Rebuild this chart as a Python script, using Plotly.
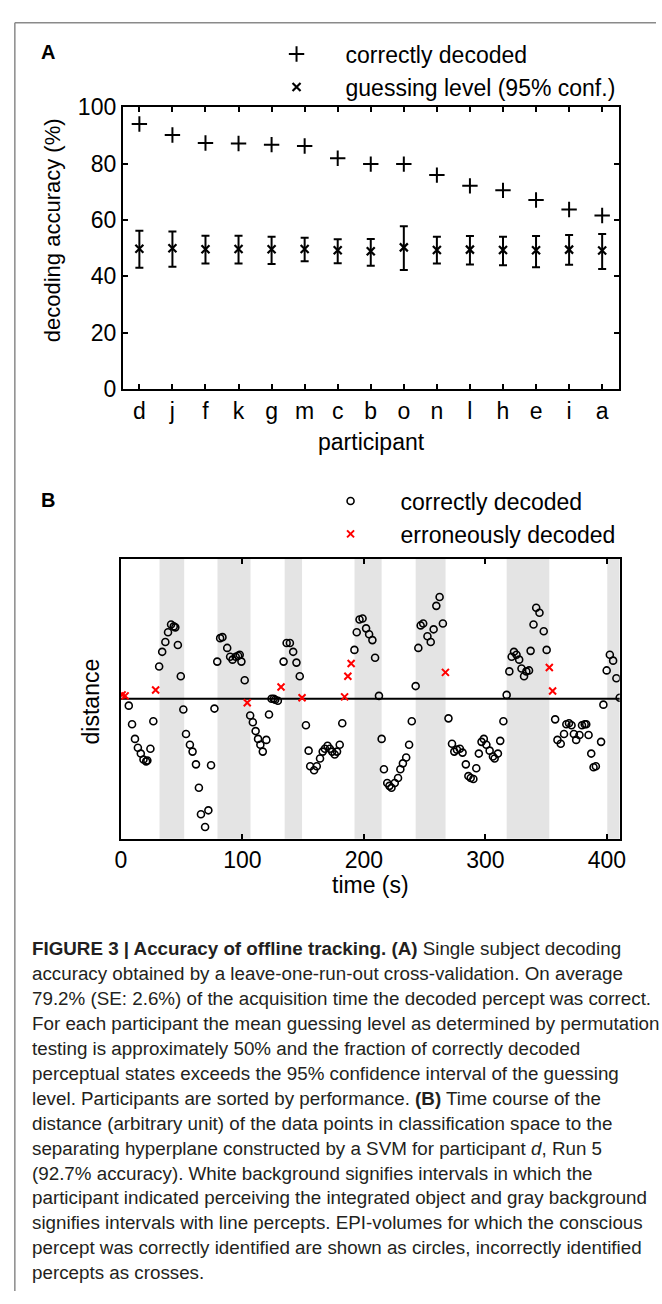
import plotly.graph_objects as go

W, H = 662, 1304

# ---------------- Panel A data ----------------
participants = ['d', 'j', 'f', 'k', 'g', 'm', 'c', 'b', 'o', 'n', 'l', 'h', 'e', 'i', 'a']
correct_acc = [94.0, 90.1, 87.3, 87.1, 86.7, 86.2, 81.9, 79.8, 79.8, 75.9, 72.1, 70.5, 67.1, 63.7, 61.6]
guess_mean = [49.8, 50.0, 49.6, 49.7, 49.6, 49.7, 49.3, 48.9, 50.3, 49.4, 49.5, 49.4, 49.3, 49.5, 49.2]
guess_upper = [56.2, 55.9, 54.4, 54.4, 54.1, 53.7, 53.2, 53.3, 57.8, 54.1, 54.3, 54.1, 54.3, 54.7, 55.0]
guess_lower = [43.1, 43.4, 44.6, 44.6, 44.4, 45.4, 44.7, 43.8, 42.3, 44.6, 44.2, 44.0, 43.3, 44.1, 42.6]
acc_ticks = [0, 20, 40, 60, 80, 100]

# ---------------- Panel B data ----------------
t_correct = [6.5, 9.2, 11.6, 14.0, 16.4, 18.6, 20.8, 21.8, 24.3, 26.7,
             31.5, 34.0, 36.6, 38.8, 41.3, 43.5, 44.8, 46.9, 49.3, 51.4,
             53.6, 56.8, 59.0, 61.8, 64.2, 65.9, 69.3, 72.0, 74.2, 77.0,
             79.3, 81.7, 83.6, 87.5, 89.9, 91.9, 94.5, 96.5, 97.8, 99.2,
             101.9, 106.4, 108.6, 110.9, 112.9, 114.8, 116.8, 119.7, 121.9, 124.0,
             125.8, 127.0, 129.2, 133.9, 136.4, 139.1, 141.8, 144.5, 147.2, 152.3,
             154.5, 155.8, 159.0, 161.2, 163.9, 166.1, 167.9, 170.1, 172.0, 173.9,
             176.0, 177.9, 180.1, 182.2, 192.2, 194.1, 196.4, 198.9, 201.8, 204.3,
             207.0, 209.2, 212.4, 214.6, 216.5, 219.2, 221.0, 222.7, 225.4, 228.1,
             230.0, 232.1, 234.8, 237.2, 239.4, 242.6, 244.8, 246.7, 248.8, 252.3,
             255.0, 257.4, 259.6, 262.3, 265.0, 269.6, 272.5, 274.4, 276.6, 279.0,
             281.2, 283.9, 286.0, 287.9, 290.1, 292.5, 294.6, 296.8, 298.7, 300.8,
             303.5, 306.2, 307.6, 310.3, 312.2, 314.8, 317.5, 319.7, 321.6, 323.5,
             325.6, 327.8, 329.7, 331.8, 333.7, 335.9, 337.2, 339.6, 341.8, 344.5,
             348.0, 350.4, 357.4, 359.3, 362.0, 364.7, 366.6, 368.8, 370.9, 372.8,
             374.7, 377.4, 379.5, 381.7, 383.0, 384.9, 387.1, 389.0, 390.9, 395.2,
             397.1, 399.8, 402.4, 405.1, 407.8, 410.5]
d_correct = [-0.07, -0.26, -0.41, -0.50, -0.56, -0.62, -0.64, -0.63, -0.51, -0.23,
             0.33, 0.48, 0.58, 0.68, 0.76, 0.74, 0.73, 0.55, 0.23, -0.11,
             -0.36, -0.47, -0.54, -0.67, -0.91, -1.18, -1.31, -1.14, -0.68, -0.10,
             0.38, 0.62, 0.63, 0.52, 0.43, 0.40, 0.43, 0.44, 0.45, 0.38,
             0.19, -0.17, -0.24, -0.33, -0.41, -0.47, -0.54, -0.42, -0.16, 0.00,
             0.00, -0.01, -0.02, 0.38, 0.57, 0.57, 0.48, 0.37, 0.23, -0.27,
             -0.53, -0.69, -0.73, -0.69, -0.61, -0.54, -0.51, -0.48, -0.51, -0.54,
             -0.57, -0.54, -0.47, -0.25, 0.50, 0.68, 0.81, 0.82, 0.72, 0.66,
             0.60, 0.42, 0.03, -0.41, -0.72, -0.86, -0.89, -0.91, -0.86, -0.81,
             -0.72, -0.66, -0.60, -0.47, -0.23, 0.13, 0.52, 0.75, 0.77, 0.64,
             0.58, 0.71, 0.95, 1.04, 0.77, -0.20, -0.46, -0.54, -0.52, -0.51,
             -0.55, -0.67, -0.79, -0.81, -0.82, -0.71, -0.56, -0.44, -0.41, -0.47,
             -0.53, -0.59, -0.61, -0.56, -0.43, -0.23, 0.04, 0.28, 0.43, 0.48,
             0.45, 0.40, 0.31, 0.23, 0.28, 0.29, 0.49, 0.76, 0.93, 0.88,
             0.69, 0.50, -0.21, -0.42, -0.46, -0.36, -0.26, -0.25, -0.27, -0.36,
             -0.42, -0.37, -0.27, -0.26, -0.26, -0.37, -0.56, -0.70, -0.69, -0.44,
             -0.06, 0.29, 0.45, 0.39, 0.21, 0.01]
t_wrong = [1.0, 3.5, 28.6, 104.0, 131.8, 149.1, 184.1, 186.8, 189.5, 267.1, 352.6, 355.3]
d_wrong = [0.04, 0.03, 0.09, -0.04, 0.12, 0.01, 0.02, 0.23, 0.36, 0.27, 0.32, 0.08]
gray_start = [31.8, 79.5, 134.8, 192.3, 242.6, 317.5, 400.3]
gray_end = [52.1, 106.7, 149.1, 214.6, 267.2, 352.6, 410.5]
time_ticks = [0, 100, 200, 300, 400]
time_range = [0, 410.5]
dist_range = [-1.43, 1.43]

caption_lines = [
    "<b>FIGURE 3 | Accuracy of offline tracking. (A)</b> Single subject decoding",
    "accuracy obtained by a leave-one-run-out cross-validation. On average",
    "79.2% (SE: 2.6%) of the acquisition time the decoded percept was correct.",
    "For each participant the mean guessing level as determined by permutation",
    "testing is approximately 50% and the fraction of correctly decoded",
    "perceptual states exceeds the 95% confidence interval of the guessing",
    "level. Participants are sorted by performance. <b>(B)</b> Time course of the",
    "distance (arbitrary unit) of the data points in classification space to the",
    "separating hyperplane constructed by a SVM for participant <i>d</i>, Run 5",
    "(92.7% accuracy). White background signifies intervals in which the",
    "participant indicated perceiving the integrated object and gray background",
    "signifies intervals with line percepts. EPI-volumes for which the conscious",
    "percept was correctly identified are shown as circles, incorrectly identified",
    "percepts as crosses.",
]

FONT = "Liberation Sans, Arial, sans-serif"


def px(x):
    return x / W


def py(y):
    return 1 - y / H


fig = go.Figure()

# ---- Panel A traces ----
fig.add_trace(go.Scatter(
    x=participants, y=correct_acc, mode="markers", name="correctly decoded",
    marker=dict(symbol="cross-thin-open", size=11, line=dict(width=2, color="black"), color="black"),
    xaxis="x", yaxis="y", legend="legend"))
err_plus = [u - m for u, m in zip(guess_upper, guess_mean)]
err_minus = [m - l for m, l in zip(guess_mean, guess_lower)]
fig.add_trace(go.Scatter(
    x=participants, y=guess_mean, mode="markers", showlegend=False,
    marker=dict(size=1, opacity=0),
    error_y=dict(type="data", array=err_plus, arrayminus=err_minus, color="black", thickness=2, width=4),
    xaxis="x", yaxis="y"))
fig.add_trace(go.Scatter(
    x=participants, y=guess_mean, mode="markers", name="guessing level (95% conf.)",
    marker=dict(symbol="x-thin-open", size=8, line=dict(width=2.2, color="black"), color="black"),
    xaxis="x", yaxis="y", legend="legend"))

# ---- Panel B traces ----
fig.add_trace(go.Scatter(
    x=t_correct, y=d_correct, mode="markers", name="correctly decoded",
    marker=dict(symbol="circle-open", size=7, line=dict(width=1.6, color="black"), color="black"),
    xaxis="x2", yaxis="y2", legend="legend2", legendgroup="b1"))
fig.add_trace(go.Scatter(
    x=t_wrong, y=d_wrong, mode="markers", name="erroneously decoded",
    marker=dict(symbol="x-thin-open", size=7, line=dict(width=2, color="#ff0000"), color="#ff0000"),
    xaxis="x2", yaxis="y2", legend="legend2", legendgroup="b2"))

shapes = []
for s, e in zip(gray_start, gray_end):
    shapes.append(dict(type="rect", xref="x2", yref="y2 domain", x0=s, x1=e, y0=0, y1=1,
                       fillcolor="#e4e4e4", line=dict(width=0), layer="below"))
shapes.append(dict(type="line", xref="x2 domain", yref="y2", x0=0, x1=1, y0=0, y1=0,
                   line=dict(color="black", width=2), layer="below"))
# figure frame (top and left)
shapes.append(dict(type="line", xref="paper", yref="paper", x0=px(9), x1=1, y0=py(10), y1=py(10),
                   line=dict(color="#8a8a8a", width=1.5)))
shapes.append(dict(type="line", xref="paper", yref="paper", x0=px(9), x1=px(9), y0=py(10), y1=0,
                   line=dict(color="#8a8a8a", width=1.5)))

axis_common = dict(showline=True, linecolor="black", linewidth=2, mirror="allticks",
                   ticks="inside", ticklen=5, tickwidth=1.5, tickcolor="black",
                   showgrid=False, zeroline=False,
                   tickfont=dict(family=FONT, size=23, color="black"))


def label(text, x, y, size=23, angle=0):
    return dict(text=text, x=px(x), y=py(y), xref="paper", yref="paper", showarrow=False,
                xanchor="center", yanchor="middle", textangle=angle,
                font=dict(family=FONT, size=size, color="black"))


annotations = [
    label("<b>A</b>", 43, 40, 20),
    label("<b>B</b>", 43, 497, 20),
    label("decoding accuracy (%)", 47, 221.5, 22, -90),
    label("participant", 372, 438),
    label("distance", 87, 702, 23, -90),
    label("time (s)", 371, 890),
]
for i, line in enumerate(caption_lines):
    annotations.append(dict(text=line, x=px(24), y=py(955 + 25.4 * i), xref="paper", yref="paper",
                            xanchor="left", yanchor="middle", showarrow=False, align="left",
                            font=dict(family=FONT, size=18.8, color="#231f20")))

fig.update_layout(
    width=W, height=H, autosize=False,
    margin=dict(l=0, r=0, t=0, b=0),
    paper_bgcolor="white", plot_bgcolor="white",
    font=dict(family=FONT, color="black"),
    xaxis=dict(domain=[px(119), px(624)], anchor="y", type="category",
               range=[-0.5, len(participants) - 0.5], **axis_common),
    yaxis=dict(domain=[py(384), py(96)], anchor="x", range=[0, 100], tickvals=acc_ticks, **axis_common),
    xaxis2=dict(domain=[px(117), px(625)], anchor="y2", range=time_range, tickvals=time_ticks,
                **axis_common),
    yaxis2=dict(domain=[py(842.5), py(557)], anchor="x2", range=dist_range,
                showline=True, linecolor="black", linewidth=2, mirror=True, ticks="",
                showticklabels=False, showgrid=False, zeroline=False),
    legend=dict(x=px(246), y=py(20), xanchor="left", yanchor="top", bgcolor="rgba(0,0,0,0)",
                itemwidth=88, tracegroupgap=0, font=dict(family=FONT, size=23, color="black"),
                traceorder="normal"),
    legend2=dict(x=px(300), y=py(476), xanchor="left", yanchor="top", bgcolor="rgba(0,0,0,0)",
                 itemwidth=90, tracegroupgap=4, font=dict(family=FONT, size=23, color="black"),
                 traceorder="normal"),
    shapes=shapes,
    annotations=annotations,
)

fig.write_html("out.html", post_script="document.body.style.margin='0';")
